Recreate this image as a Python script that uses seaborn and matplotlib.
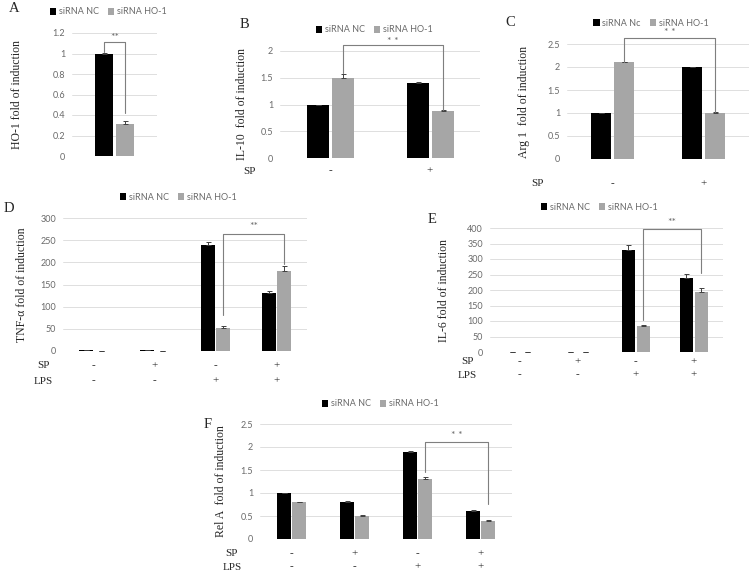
import numpy as np
import pandas as pd
import seaborn as sns
import matplotlib.pyplot as plt
from matplotlib import transforms

# ---- data ----
groups = ["siRNA NC", "siRNA HO-1"]
groups_c = ["siRNA Nc", "siRNA HO-1"]

# panel A (HO-1)
nc_a = [1.0]
ho_a = [0.31]
nc_a_err = [0.005]
ho_a_err = [0.03]

# panel B (IL-10)
sp_b = ["-", "+"]
nc_b = [1.0, 1.4]
ho_b = [1.5, 0.88]
nc_b_err = [0.0, 0.02]
ho_b_err = [0.07, 0.01]

# panel C (Arg 1)
sp_c = ["-", "+"]
nc_c = [1.0, 2.0]
ho_c = [2.1, 1.0]
nc_c_err = [0.0, 0.01]
ho_c_err = [0.01, 0.02]

# panels D-F share the SP / LPS design
conds = ["ctrl", "SP", "LPS", "SP+LPS"]
sp_row = ["-", "+", "-", "+"]
lps_row = ["-", "-", "+", "+"]

nc_d = [1.5, 1.5, 238, 130]
ho_d = [1.0, 1.0, 52, 180]
nc_d_err = [0, 0, 8, 6]
ho_d_err = [0, 0, 4, 12]

nc_e = [1.5, 1.5, 328, 238]
ho_e = [1.5, 1.5, 83, 193]
nc_e_err = [0, 0, 18, 15]
ho_e_err = [0, 0, 3, 12]

nc_f = [1.0, 0.8, 1.9, 0.6]
ho_f = [0.8, 0.5, 1.3, 0.4]
nc_f_err = [0, 0.03, 0.02, 0.02]
ho_f_err = [0.01, 0.03, 0.05, 0.01]

W, H = 750, 572
BLACK = "#000000"
GREY = "#a6a6a6"
TXT = "#6a6a6a"
SERIF = "Liberation Serif"
SANS = "Lato"

sns.set_style("white")
plt.rcParams["font.family"] = [SANS, "DejaVu Sans"]

fig = plt.figure(figsize=(7.5, 5.72), dpi=100)


def fr(x, y):
    return x / W, 1 - y / H


def make_ax(l, t, r, b):
    return fig.add_axes([l / W, 1 - b / H, (r - l) / W, (b - t) / H])


def panel(box, cats, nc, ho, nc_err, ho_err, labels, ylim, step, ylabel, ylab_x,
          width, gap, legend_xy, letter, letter_xy):
    ax = make_ax(*box)
    n = len(cats)
    df = pd.DataFrame({"cond": cats * 2,
                       "group": [labels[0]] * n + [labels[1]] * n,
                       "value": list(nc) + list(ho)})
    sns.barplot(data=df, x="cond", y="value", hue="group", order=cats,
                hue_order=labels, palette=[BLACK, GREY], saturation=1,
                width=width, gap=gap, errorbar=None, linewidth=0, ax=ax)
    centers = []
    for cont, vals, errs in zip(ax.containers, [nc, ho], [nc_err, ho_err]):
        xs = [p.get_x() + p.get_width() / 2 for p in cont]
        centers.append(xs)
        ax.errorbar(xs, vals, yerr=[np.zeros(n), errs], fmt="none",
                    ecolor="#404040", elinewidth=0.7, capsize=1.8, capthick=0.7)
    ax.set_xlim(-0.5, n - 0.5)
    ax.set_ylim(*ylim)
    ticks = np.arange(ylim[0], ylim[1] + step / 2, step)
    ax.set_yticks(ticks)
    ax.set_yticklabels([f"{t:g}" for t in ticks])
    ax.tick_params(axis="y", length=0, labelsize=6.5, labelcolor=TXT, pad=5)
    ax.tick_params(axis="x", length=0, labelbottom=False)
    ax.set_xlabel("")
    ax.set_ylabel(ylabel, fontfamily=SERIF, fontsize=8.5)
    ax.yaxis.set_label_coords((ylab_x - box[0]) / (box[2] - box[0]), 0.5)
    ax.set_axisbelow(True)
    ax.yaxis.grid(True, color="#d9d9d9", lw=0.6)
    ax.xaxis.grid(False)
    for s in ax.spines.values():
        s.set_visible(False)
    h, l = ax.get_legend_handles_labels()
    ax.legend(h, l, loc="center", bbox_to_anchor=fr(*legend_xy),
              bbox_transform=fig.transFigure, ncol=2, frameon=False,
              fontsize=6.5, handlelength=0.7, handleheight=0.7,
              handletextpad=0.3, columnspacing=1.0, labelcolor=TXT,
              borderpad=0, borderaxespad=0)
    fig.text(*fr(*letter_xy), letter, fontfamily=SERIF, fontsize=10.5,
             ha="left", va="center")
    return ax, centers


def rows(ax, items, name_x):
    trans = transforms.blended_transform_factory(ax.transData, fig.transFigure)
    for name, vals, y in items:
        fig.text(*fr(name_x, y), name, fontfamily=SERIF, fontsize=8,
                 ha="center", va="center")
        for i, v in enumerate(vals):
            ax.text(i, 1 - y / H, v, transform=trans, fontfamily=SERIF,
                    fontsize=8, ha="center", va="center")


def bracket(ax, xl, xr, top, yl, yr, stars, star_y):
    ax.plot([xl, xl, xr, xr], [yl, top, top, yr], color="#7f7f7f", lw=0.8,
            clip_on=False)
    ax.text((xl + xr) / 2, star_y, stars, ha="center", va="center",
            fontsize=7.5, color=TXT, clip_on=False)


# A
ax, c = panel((72, 33, 157, 156), ["HO-1"], nc_a, ho_a, nc_a_err, ho_a_err,
              groups, (0, 1.2), 0.2, "HO-1 fold of induction", 23,
              0.48, 0.1, (108, 12), "A", (9, 8))
bracket(ax, c[0][0], c[1][0], 1.11, 1.015, 0.42, "**", 1.16)

# B
ax, c = panel((280, 51, 480, 158), sp_b, nc_b, ho_b, nc_b_err, ho_b_err,
              groups, (0, 2), 0.5, "IL-10  fold of induction", 248,
              0.5, 0.12, (374, 30), "B", (240, 25))
rows(ax, [("SP", sp_b, 171)], 250)
bracket(ax, c[1][0], c[1][1], 2.11, 1.58, 0.9, "* *", 2.17)

# C
ax, c = panel((567, 44, 749, 159), sp_c, nc_c, ho_c, nc_c_err, ho_c_err,
              groups_c, (0, 2.5), 0.5, "Arg 1  fold of induction", 530,
              0.52, 0.15, (651, 23), "C", (505, 22))
rows(ax, [("SP", sp_c, 184)], 538)
bracket(ax, c[1][0], c[1][1], 2.63, 2.11, 1.03, "* *", 2.74)

# D
ax, c = panel((63, 218, 307, 351), conds, nc_d, ho_d, nc_d_err, ho_d_err,
              groups, (0, 300), 50, "TNF-\u03b1 fold of induction", 28,
              0.52, 0.12, (178, 197), "D", (4, 208))
rows(ax, [("SP", sp_row, 366), ("LPS", lps_row, 381)], 43)
bracket(ax, c[1][2], c[1][3], 264, 81, 196, "**", 280)

# E
ax, c = panel((490, 228, 723, 352), conds, nc_e, ho_e, nc_e_err, ho_e_err,
              groups, (0, 400), 50, "IL-6 fold of induction", 450,
              0.52, 0.14, (599, 207), "E", (428, 219))
rows(ax, [("SP", sp_row, 362), ("LPS", lps_row, 375)], 467)
bracket(ax, c[1][2], c[1][3], 397, 103, 255, "**", 419)

# F
ax, c = panel((260, 424, 512, 539), conds, nc_f, ho_f, nc_f_err, ho_f_err,
              groups, (0, 2.5), 0.5, "Rel A  fold of induction", 227,
              0.5, 0.12, (380, 404), "F", (204, 425))
rows(ax, [("SP", sp_row, 554), ("LPS", lps_row, 567)], 232)
bracket(ax, c[1][2], c[1][3], 2.11, 1.46, 0.76, "* *", 2.24)

fig.savefig("out.png", dpi=100)
